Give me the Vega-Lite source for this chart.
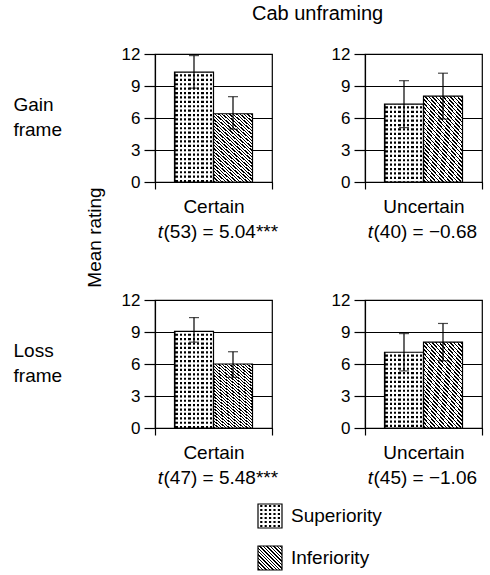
{
  "$schema": "https://vega.github.io/schema/vega-lite/v6.json",
  "padding": {"left": 12, "top": 4, "right": 0, "bottom": 0},
  "title": {"text": "Cab unframing", "anchor": "start", "frame": "group", "dx": 97, "offset": 20, "fontSize": 20, "fontWeight": "normal", "color": "#000"},
  "config": {
    "font": "Liberation Sans",
    "view": {"stroke": "#000", "strokeWidth": 1.2},
    "axis": {"domainColor": "#000", "domainWidth": 1.2, "tickColor": "#000", "tickWidth": 1.2, "labelColor": "#000", "titleColor": "#000", "titleFontWeight": "normal", "gridColor": "#000", "gridOpacity": 1, "gridWidth": 1.1},
    "axisX": {"labelFontSize": 19, "tickSize": 7, "labelPadding": 8, "grid": false, "labelAngle": 0},
    "axisY": {"labelFontSize": 17, "tickSize": 11, "labelPadding": 4, "titleFontSize": 19, "tickCount": 6, "labelOverlap": false},
    "title": {"fontWeight": "normal", "color": "#000"},
    "text": {"fontSize": 19, "color": "#000"}
  },
  "datasets": {
    "bars": [
      {"frame": "Gain", "certainty": "Certain", "group": "Superiority", "mean": 10.3, "lo": 8.8, "hi": 11.85},
      {"frame": "Gain", "certainty": "Certain", "group": "Inferiority", "mean": 6.4, "lo": 4.95, "hi": 8.0},
      {"frame": "Gain", "certainty": "Uncertain", "group": "Superiority", "mean": 7.3, "lo": 5.1, "hi": 9.5},
      {"frame": "Gain", "certainty": "Uncertain", "group": "Inferiority", "mean": 8.05, "lo": 5.9, "hi": 10.2},
      {"frame": "Loss", "certainty": "Certain", "group": "Superiority", "mean": 9.05, "lo": 8.05, "hi": 10.35},
      {"frame": "Loss", "certainty": "Certain", "group": "Inferiority", "mean": 6.0, "lo": 4.75, "hi": 7.15},
      {"frame": "Loss", "certainty": "Uncertain", "group": "Superiority", "mean": 7.1, "lo": 5.35, "hi": 8.85},
      {"frame": "Loss", "certainty": "Uncertain", "group": "Inferiority", "mean": 8.05, "lo": 6.3, "hi": 9.8}
    ],
    "stats": [
      {"frame": "Gain", "certainty": "Certain", "label": "(53) = 5.04***"},
      {"frame": "Gain", "certainty": "Uncertain", "label": "(40) = −0.68"},
      {"frame": "Loss", "certainty": "Certain", "label": "(47) = 5.48***"},
      {"frame": "Loss", "certainty": "Uncertain", "label": "(45) = −1.06"}
    ],
    "legend": [
      {"group": "Superiority"},
      {"group": "Inferiority"}
    ]
  },
  "concat": [
    {
      "width": 117, "height": 128,
      "title": {"text": ["Gain", "frame"], "orient": "left", "angle": 0, "align": "left", "baseline": "middle", "anchor": "middle", "frame": "group", "offset": 23, "dy": -13.5, "fontSize": 19, "lineHeight": 25},
      "layer": [
        {"data": {"name": "bars"}, "transform": [{"filter": "datum.frame === 'Gain' && datum.certainty === 'Certain'"}, {"filter": "datum.group === 'Superiority'"}],
         "mark": {"type": "bar", "strokeWidth": 0, "fill": {"gradient": "linear", "x1": 0, "y1": 0, "x2": 1, "y2": 0, "stops": [{"offset": 0, "color": "#fff"}, {"offset": 0.025, "color": "#fff"}, {"offset": 0.025, "color": "#000"}, {"offset": 0.085, "color": "#000"}, {"offset": 0.085, "color": "#fff"}, {"offset": 0.136, "color": "#fff"}, {"offset": 0.136, "color": "#000"}, {"offset": 0.196, "color": "#000"}, {"offset": 0.196, "color": "#fff"}, {"offset": 0.247, "color": "#fff"}, {"offset": 0.247, "color": "#000"}, {"offset": 0.307, "color": "#000"}, {"offset": 0.307, "color": "#fff"}, {"offset": 0.358, "color": "#fff"}, {"offset": 0.358, "color": "#000"}, {"offset": 0.418, "color": "#000"}, {"offset": 0.418, "color": "#fff"}, {"offset": 0.469, "color": "#fff"}, {"offset": 0.469, "color": "#000"}, {"offset": 0.529, "color": "#000"}, {"offset": 0.529, "color": "#fff"}, {"offset": 0.581, "color": "#fff"}, {"offset": 0.581, "color": "#000"}, {"offset": 0.641, "color": "#000"}, {"offset": 0.641, "color": "#fff"}, {"offset": 0.692, "color": "#fff"}, {"offset": 0.692, "color": "#000"}, {"offset": 0.752, "color": "#000"}, {"offset": 0.752, "color": "#fff"}, {"offset": 0.803, "color": "#fff"}, {"offset": 0.803, "color": "#000"}, {"offset": 0.863, "color": "#000"}, {"offset": 0.863, "color": "#fff"}, {"offset": 0.914, "color": "#fff"}, {"offset": 0.914, "color": "#000"}, {"offset": 0.974, "color": "#000"}, {"offset": 0.974, "color": "#fff"}, {"offset": 1, "color": "#fff"}]}},
         "encoding": {
           "x": {"field": "certainty", "type": "nominal", "title": null, "scale": {"paddingInner": 0, "paddingOuter": 0}, "axis": {"tickBand": "extent", "title": null}},
           "xOffset": {"field": "group", "type": "nominal", "scale": {"domain": ["Superiority", "Inferiority"], "paddingInner": 0, "paddingOuter": 0.5}},
           "y": {"field": "mean", "type": "quantitative", "scale": {"domain": [0, 12], "nice": false}, "axis": {"values": [0, 3, 6, 9, 12], "tickCount": 6, "grid": true, "title": "Mean rating", "titleX": -61, "titleY": 183, "titleAngle": -90, "titleAlign": "center", "titleBaseline": "middle"}}
         }},
        {"data": {"name": "bars"}, "transform": [{"filter": "datum.frame === 'Gain' && datum.certainty === 'Certain'"}, {"filter": "datum.group === 'Superiority'"}],
         "mark": {"type": "rule", "stroke": "#fff", "strokeWidth": 37, "strokeDash": [2.2, 2.2]},
         "encoding": {"x": {"field": "certainty", "type": "nominal"}, "xOffset": {"field": "group", "type": "nominal", "scale": {"domain": ["Superiority", "Inferiority"]}}, "y": {"field": "mean", "type": "quantitative"}, "y2": {"datum": 0}}},
        {"data": {"name": "bars"}, "transform": [{"filter": "datum.frame === 'Gain' && datum.certainty === 'Certain'"}, {"filter": "datum.group === 'Inferiority'"}],
         "mark": {"type": "bar", "strokeWidth": 0, "fill": {"gradient": "linear", "x1": 0, "y1": 1, "x2": 0.6146, "y2": -0.1978, "stops": [{"offset": 0, "color": "#fff"}, {"offset": 0.009, "color": "#fff"}, {"offset": 0.009, "color": "#000"}, {"offset": 0.0215, "color": "#000"}, {"offset": 0.0215, "color": "#fff"}, {"offset": 0.0403, "color": "#fff"}, {"offset": 0.0403, "color": "#000"}, {"offset": 0.0528, "color": "#000"}, {"offset": 0.0528, "color": "#fff"}, {"offset": 0.0715, "color": "#fff"}, {"offset": 0.0715, "color": "#000"}, {"offset": 0.084, "color": "#000"}, {"offset": 0.084, "color": "#fff"}, {"offset": 0.1028, "color": "#fff"}, {"offset": 0.1028, "color": "#000"}, {"offset": 0.1153, "color": "#000"}, {"offset": 0.1153, "color": "#fff"}, {"offset": 0.134, "color": "#fff"}, {"offset": 0.134, "color": "#000"}, {"offset": 0.1465, "color": "#000"}, {"offset": 0.1465, "color": "#fff"}, {"offset": 0.1653, "color": "#fff"}, {"offset": 0.1653, "color": "#000"}, {"offset": 0.1778, "color": "#000"}, {"offset": 0.1778, "color": "#fff"}, {"offset": 0.1965, "color": "#fff"}, {"offset": 0.1965, "color": "#000"}, {"offset": 0.209, "color": "#000"}, {"offset": 0.209, "color": "#fff"}, {"offset": 0.2278, "color": "#fff"}, {"offset": 0.2278, "color": "#000"}, {"offset": 0.2403, "color": "#000"}, {"offset": 0.2403, "color": "#fff"}, {"offset": 0.259, "color": "#fff"}, {"offset": 0.259, "color": "#000"}, {"offset": 0.2715, "color": "#000"}, {"offset": 0.2715, "color": "#fff"}, {"offset": 0.2903, "color": "#fff"}, {"offset": 0.2903, "color": "#000"}, {"offset": 0.3028, "color": "#000"}, {"offset": 0.3028, "color": "#fff"}, {"offset": 0.3215, "color": "#fff"}, {"offset": 0.3215, "color": "#000"}, {"offset": 0.334, "color": "#000"}, {"offset": 0.334, "color": "#fff"}, {"offset": 0.3528, "color": "#fff"}, {"offset": 0.3528, "color": "#000"}, {"offset": 0.3653, "color": "#000"}, {"offset": 0.3653, "color": "#fff"}, {"offset": 0.384, "color": "#fff"}, {"offset": 0.384, "color": "#000"}, {"offset": 0.3965, "color": "#000"}, {"offset": 0.3965, "color": "#fff"}, {"offset": 0.4153, "color": "#fff"}, {"offset": 0.4153, "color": "#000"}, {"offset": 0.4278, "color": "#000"}, {"offset": 0.4278, "color": "#fff"}, {"offset": 0.4465, "color": "#fff"}, {"offset": 0.4465, "color": "#000"}, {"offset": 0.459, "color": "#000"}, {"offset": 0.459, "color": "#fff"}, {"offset": 0.4778, "color": "#fff"}, {"offset": 0.4778, "color": "#000"}, {"offset": 0.4903, "color": "#000"}, {"offset": 0.4903, "color": "#fff"}, {"offset": 0.509, "color": "#fff"}, {"offset": 0.509, "color": "#000"}, {"offset": 0.5215, "color": "#000"}, {"offset": 0.5215, "color": "#fff"}, {"offset": 0.5403, "color": "#fff"}, {"offset": 0.5403, "color": "#000"}, {"offset": 0.5528, "color": "#000"}, {"offset": 0.5528, "color": "#fff"}, {"offset": 0.5715, "color": "#fff"}, {"offset": 0.5715, "color": "#000"}, {"offset": 0.584, "color": "#000"}, {"offset": 0.584, "color": "#fff"}, {"offset": 0.6028, "color": "#fff"}, {"offset": 0.6028, "color": "#000"}, {"offset": 0.6153, "color": "#000"}, {"offset": 0.6153, "color": "#fff"}, {"offset": 0.634, "color": "#fff"}, {"offset": 0.634, "color": "#000"}, {"offset": 0.6465, "color": "#000"}, {"offset": 0.6465, "color": "#fff"}, {"offset": 0.6653, "color": "#fff"}, {"offset": 0.6653, "color": "#000"}, {"offset": 0.6778, "color": "#000"}, {"offset": 0.6778, "color": "#fff"}, {"offset": 0.6965, "color": "#fff"}, {"offset": 0.6965, "color": "#000"}, {"offset": 0.709, "color": "#000"}, {"offset": 0.709, "color": "#fff"}, {"offset": 0.7278, "color": "#fff"}, {"offset": 0.7278, "color": "#000"}, {"offset": 0.7403, "color": "#000"}, {"offset": 0.7403, "color": "#fff"}, {"offset": 0.759, "color": "#fff"}, {"offset": 0.759, "color": "#000"}, {"offset": 0.7715, "color": "#000"}, {"offset": 0.7715, "color": "#fff"}, {"offset": 0.7903, "color": "#fff"}, {"offset": 0.7903, "color": "#000"}, {"offset": 0.8028, "color": "#000"}, {"offset": 0.8028, "color": "#fff"}, {"offset": 0.8215, "color": "#fff"}, {"offset": 0.8215, "color": "#000"}, {"offset": 0.834, "color": "#000"}, {"offset": 0.834, "color": "#fff"}, {"offset": 0.8528, "color": "#fff"}, {"offset": 0.8528, "color": "#000"}, {"offset": 0.8653, "color": "#000"}, {"offset": 0.8653, "color": "#fff"}, {"offset": 0.884, "color": "#fff"}, {"offset": 0.884, "color": "#000"}, {"offset": 0.8965, "color": "#000"}, {"offset": 0.8965, "color": "#fff"}, {"offset": 0.9153, "color": "#fff"}, {"offset": 0.9153, "color": "#000"}, {"offset": 0.9278, "color": "#000"}, {"offset": 0.9278, "color": "#fff"}, {"offset": 0.9465, "color": "#fff"}, {"offset": 0.9465, "color": "#000"}, {"offset": 0.959, "color": "#000"}, {"offset": 0.959, "color": "#fff"}, {"offset": 0.9778, "color": "#fff"}, {"offset": 0.9778, "color": "#000"}, {"offset": 0.9903, "color": "#000"}, {"offset": 0.9903, "color": "#fff"}, {"offset": 1, "color": "#fff"}]}},
         "encoding": {"x": {"field": "certainty", "type": "nominal"}, "xOffset": {"field": "group", "type": "nominal", "scale": {"domain": ["Superiority", "Inferiority"]}}, "y": {"field": "mean", "type": "quantitative"}}},
        {"data": {"name": "bars"}, "transform": [{"filter": "datum.frame === 'Gain' && datum.certainty === 'Certain'"}],
         "mark": {"type": "bar", "fill": "transparent", "stroke": "#000", "strokeWidth": 1.2},
         "encoding": {"x": {"field": "certainty", "type": "nominal"}, "xOffset": {"field": "group", "type": "nominal", "scale": {"domain": ["Superiority", "Inferiority"]}}, "y": {"field": "mean", "type": "quantitative"}}},
        {"data": {"name": "bars"}, "transform": [{"filter": "datum.frame === 'Gain' && datum.certainty === 'Certain'"}],
         "mark": {"type": "rule", "stroke": "#000", "strokeWidth": 1.2},
         "encoding": {"x": {"field": "certainty", "type": "nominal"}, "xOffset": {"field": "group", "type": "nominal", "scale": {"domain": ["Superiority", "Inferiority"]}}, "y": {"field": "lo", "type": "quantitative"}, "y2": {"field": "hi"}}},
        {"data": {"name": "bars"}, "transform": [{"filter": "datum.frame === 'Gain' && datum.certainty === 'Certain'"}],
         "mark": {"type": "tick", "orient": "horizontal", "size": 10, "thickness": 1.2, "color": "#000"},
         "encoding": {"x": {"field": "certainty", "type": "nominal"}, "xOffset": {"field": "group", "type": "nominal", "scale": {"domain": ["Superiority", "Inferiority"]}}, "y": {"field": "lo", "type": "quantitative"}}},
        {"data": {"name": "bars"}, "transform": [{"filter": "datum.frame === 'Gain' && datum.certainty === 'Certain'"}],
         "mark": {"type": "tick", "orient": "horizontal", "size": 10, "thickness": 1.2, "color": "#000"},
         "encoding": {"x": {"field": "certainty", "type": "nominal"}, "xOffset": {"field": "group", "type": "nominal", "scale": {"domain": ["Superiority", "Inferiority"]}}, "y": {"field": "hi", "type": "quantitative"}}},
        {"data": {"name": "stats"}, "transform": [{"filter": "datum.frame === 'Gain' && datum.certainty === 'Certain'"}],
         "mark": {"type": "text", "text": "t", "fontStyle": "italic", "align": "right", "baseline": "alphabetic", "dx": -50.5, "dy": 56},
         "encoding": {"x": {"field": "certainty", "type": "nominal"}, "y": {"datum": 0, "type": "quantitative"}}},
        {"data": {"name": "stats"}, "transform": [{"filter": "datum.frame === 'Gain' && datum.certainty === 'Certain'"}],
         "mark": {"type": "text", "align": "left", "baseline": "alphabetic", "dx": -50, "dy": 56},
         "encoding": {"x": {"field": "certainty", "type": "nominal"}, "y": {"datum": 0, "type": "quantitative"}, "text": {"field": "label"}}}
      ]
    },
    {
      "width": 117, "height": 128,
      "layer": [
        {"data": {"name": "bars"}, "transform": [{"filter": "datum.frame === 'Gain' && datum.certainty === 'Uncertain'"}, {"filter": "datum.group === 'Superiority'"}],
         "mark": {"type": "bar", "strokeWidth": 0, "fill": {"gradient": "linear", "x1": 0, "y1": 0, "x2": 1, "y2": 0, "stops": [{"offset": 0, "color": "#fff"}, {"offset": 0.025, "color": "#fff"}, {"offset": 0.025, "color": "#000"}, {"offset": 0.085, "color": "#000"}, {"offset": 0.085, "color": "#fff"}, {"offset": 0.136, "color": "#fff"}, {"offset": 0.136, "color": "#000"}, {"offset": 0.196, "color": "#000"}, {"offset": 0.196, "color": "#fff"}, {"offset": 0.247, "color": "#fff"}, {"offset": 0.247, "color": "#000"}, {"offset": 0.307, "color": "#000"}, {"offset": 0.307, "color": "#fff"}, {"offset": 0.358, "color": "#fff"}, {"offset": 0.358, "color": "#000"}, {"offset": 0.418, "color": "#000"}, {"offset": 0.418, "color": "#fff"}, {"offset": 0.469, "color": "#fff"}, {"offset": 0.469, "color": "#000"}, {"offset": 0.529, "color": "#000"}, {"offset": 0.529, "color": "#fff"}, {"offset": 0.581, "color": "#fff"}, {"offset": 0.581, "color": "#000"}, {"offset": 0.641, "color": "#000"}, {"offset": 0.641, "color": "#fff"}, {"offset": 0.692, "color": "#fff"}, {"offset": 0.692, "color": "#000"}, {"offset": 0.752, "color": "#000"}, {"offset": 0.752, "color": "#fff"}, {"offset": 0.803, "color": "#fff"}, {"offset": 0.803, "color": "#000"}, {"offset": 0.863, "color": "#000"}, {"offset": 0.863, "color": "#fff"}, {"offset": 0.914, "color": "#fff"}, {"offset": 0.914, "color": "#000"}, {"offset": 0.974, "color": "#000"}, {"offset": 0.974, "color": "#fff"}, {"offset": 1, "color": "#fff"}]}},
         "encoding": {
           "x": {"field": "certainty", "type": "nominal", "title": null, "scale": {"paddingInner": 0, "paddingOuter": 0}, "axis": {"tickBand": "extent", "title": null}},
           "xOffset": {"field": "group", "type": "nominal", "scale": {"domain": ["Superiority", "Inferiority"], "paddingInner": 0, "paddingOuter": 0.5}},
           "y": {"field": "mean", "type": "quantitative", "scale": {"domain": [0, 12], "nice": false}, "axis": {"values": [0, 3, 6, 9, 12], "tickCount": 6, "grid": true, "title": null}}
         }},
        {"data": {"name": "bars"}, "transform": [{"filter": "datum.frame === 'Gain' && datum.certainty === 'Uncertain'"}, {"filter": "datum.group === 'Superiority'"}],
         "mark": {"type": "rule", "stroke": "#fff", "strokeWidth": 37, "strokeDash": [2.2, 2.2]},
         "encoding": {"x": {"field": "certainty", "type": "nominal"}, "xOffset": {"field": "group", "type": "nominal", "scale": {"domain": ["Superiority", "Inferiority"]}}, "y": {"field": "mean", "type": "quantitative"}, "y2": {"datum": 0}}},
        {"data": {"name": "bars"}, "transform": [{"filter": "datum.frame === 'Gain' && datum.certainty === 'Uncertain'"}, {"filter": "datum.group === 'Inferiority'"}],
         "mark": {"type": "bar", "strokeWidth": 0, "fill": {"gradient": "linear", "x1": 0, "y1": 1, "x2": 0.6146, "y2": -0.1978, "stops": [{"offset": 0, "color": "#fff"}, {"offset": 0.009, "color": "#fff"}, {"offset": 0.009, "color": "#000"}, {"offset": 0.0215, "color": "#000"}, {"offset": 0.0215, "color": "#fff"}, {"offset": 0.0403, "color": "#fff"}, {"offset": 0.0403, "color": "#000"}, {"offset": 0.0528, "color": "#000"}, {"offset": 0.0528, "color": "#fff"}, {"offset": 0.0715, "color": "#fff"}, {"offset": 0.0715, "color": "#000"}, {"offset": 0.084, "color": "#000"}, {"offset": 0.084, "color": "#fff"}, {"offset": 0.1028, "color": "#fff"}, {"offset": 0.1028, "color": "#000"}, {"offset": 0.1153, "color": "#000"}, {"offset": 0.1153, "color": "#fff"}, {"offset": 0.134, "color": "#fff"}, {"offset": 0.134, "color": "#000"}, {"offset": 0.1465, "color": "#000"}, {"offset": 0.1465, "color": "#fff"}, {"offset": 0.1653, "color": "#fff"}, {"offset": 0.1653, "color": "#000"}, {"offset": 0.1778, "color": "#000"}, {"offset": 0.1778, "color": "#fff"}, {"offset": 0.1965, "color": "#fff"}, {"offset": 0.1965, "color": "#000"}, {"offset": 0.209, "color": "#000"}, {"offset": 0.209, "color": "#fff"}, {"offset": 0.2278, "color": "#fff"}, {"offset": 0.2278, "color": "#000"}, {"offset": 0.2403, "color": "#000"}, {"offset": 0.2403, "color": "#fff"}, {"offset": 0.259, "color": "#fff"}, {"offset": 0.259, "color": "#000"}, {"offset": 0.2715, "color": "#000"}, {"offset": 0.2715, "color": "#fff"}, {"offset": 0.2903, "color": "#fff"}, {"offset": 0.2903, "color": "#000"}, {"offset": 0.3028, "color": "#000"}, {"offset": 0.3028, "color": "#fff"}, {"offset": 0.3215, "color": "#fff"}, {"offset": 0.3215, "color": "#000"}, {"offset": 0.334, "color": "#000"}, {"offset": 0.334, "color": "#fff"}, {"offset": 0.3528, "color": "#fff"}, {"offset": 0.3528, "color": "#000"}, {"offset": 0.3653, "color": "#000"}, {"offset": 0.3653, "color": "#fff"}, {"offset": 0.384, "color": "#fff"}, {"offset": 0.384, "color": "#000"}, {"offset": 0.3965, "color": "#000"}, {"offset": 0.3965, "color": "#fff"}, {"offset": 0.4153, "color": "#fff"}, {"offset": 0.4153, "color": "#000"}, {"offset": 0.4278, "color": "#000"}, {"offset": 0.4278, "color": "#fff"}, {"offset": 0.4465, "color": "#fff"}, {"offset": 0.4465, "color": "#000"}, {"offset": 0.459, "color": "#000"}, {"offset": 0.459, "color": "#fff"}, {"offset": 0.4778, "color": "#fff"}, {"offset": 0.4778, "color": "#000"}, {"offset": 0.4903, "color": "#000"}, {"offset": 0.4903, "color": "#fff"}, {"offset": 0.509, "color": "#fff"}, {"offset": 0.509, "color": "#000"}, {"offset": 0.5215, "color": "#000"}, {"offset": 0.5215, "color": "#fff"}, {"offset": 0.5403, "color": "#fff"}, {"offset": 0.5403, "color": "#000"}, {"offset": 0.5528, "color": "#000"}, {"offset": 0.5528, "color": "#fff"}, {"offset": 0.5715, "color": "#fff"}, {"offset": 0.5715, "color": "#000"}, {"offset": 0.584, "color": "#000"}, {"offset": 0.584, "color": "#fff"}, {"offset": 0.6028, "color": "#fff"}, {"offset": 0.6028, "color": "#000"}, {"offset": 0.6153, "color": "#000"}, {"offset": 0.6153, "color": "#fff"}, {"offset": 0.634, "color": "#fff"}, {"offset": 0.634, "color": "#000"}, {"offset": 0.6465, "color": "#000"}, {"offset": 0.6465, "color": "#fff"}, {"offset": 0.6653, "color": "#fff"}, {"offset": 0.6653, "color": "#000"}, {"offset": 0.6778, "color": "#000"}, {"offset": 0.6778, "color": "#fff"}, {"offset": 0.6965, "color": "#fff"}, {"offset": 0.6965, "color": "#000"}, {"offset": 0.709, "color": "#000"}, {"offset": 0.709, "color": "#fff"}, {"offset": 0.7278, "color": "#fff"}, {"offset": 0.7278, "color": "#000"}, {"offset": 0.7403, "color": "#000"}, {"offset": 0.7403, "color": "#fff"}, {"offset": 0.759, "color": "#fff"}, {"offset": 0.759, "color": "#000"}, {"offset": 0.7715, "color": "#000"}, {"offset": 0.7715, "color": "#fff"}, {"offset": 0.7903, "color": "#fff"}, {"offset": 0.7903, "color": "#000"}, {"offset": 0.8028, "color": "#000"}, {"offset": 0.8028, "color": "#fff"}, {"offset": 0.8215, "color": "#fff"}, {"offset": 0.8215, "color": "#000"}, {"offset": 0.834, "color": "#000"}, {"offset": 0.834, "color": "#fff"}, {"offset": 0.8528, "color": "#fff"}, {"offset": 0.8528, "color": "#000"}, {"offset": 0.8653, "color": "#000"}, {"offset": 0.8653, "color": "#fff"}, {"offset": 0.884, "color": "#fff"}, {"offset": 0.884, "color": "#000"}, {"offset": 0.8965, "color": "#000"}, {"offset": 0.8965, "color": "#fff"}, {"offset": 0.9153, "color": "#fff"}, {"offset": 0.9153, "color": "#000"}, {"offset": 0.9278, "color": "#000"}, {"offset": 0.9278, "color": "#fff"}, {"offset": 0.9465, "color": "#fff"}, {"offset": 0.9465, "color": "#000"}, {"offset": 0.959, "color": "#000"}, {"offset": 0.959, "color": "#fff"}, {"offset": 0.9778, "color": "#fff"}, {"offset": 0.9778, "color": "#000"}, {"offset": 0.9903, "color": "#000"}, {"offset": 0.9903, "color": "#fff"}, {"offset": 1, "color": "#fff"}]}},
         "encoding": {"x": {"field": "certainty", "type": "nominal"}, "xOffset": {"field": "group", "type": "nominal", "scale": {"domain": ["Superiority", "Inferiority"]}}, "y": {"field": "mean", "type": "quantitative"}}},
        {"data": {"name": "bars"}, "transform": [{"filter": "datum.frame === 'Gain' && datum.certainty === 'Uncertain'"}],
         "mark": {"type": "bar", "fill": "transparent", "stroke": "#000", "strokeWidth": 1.2},
         "encoding": {"x": {"field": "certainty", "type": "nominal"}, "xOffset": {"field": "group", "type": "nominal", "scale": {"domain": ["Superiority", "Inferiority"]}}, "y": {"field": "mean", "type": "quantitative"}}},
        {"data": {"name": "bars"}, "transform": [{"filter": "datum.frame === 'Gain' && datum.certainty === 'Uncertain'"}],
         "mark": {"type": "rule", "stroke": "#000", "strokeWidth": 1.2},
         "encoding": {"x": {"field": "certainty", "type": "nominal"}, "xOffset": {"field": "group", "type": "nominal", "scale": {"domain": ["Superiority", "Inferiority"]}}, "y": {"field": "lo", "type": "quantitative"}, "y2": {"field": "hi"}}},
        {"data": {"name": "bars"}, "transform": [{"filter": "datum.frame === 'Gain' && datum.certainty === 'Uncertain'"}],
         "mark": {"type": "tick", "orient": "horizontal", "size": 10, "thickness": 1.2, "color": "#000"},
         "encoding": {"x": {"field": "certainty", "type": "nominal"}, "xOffset": {"field": "group", "type": "nominal", "scale": {"domain": ["Superiority", "Inferiority"]}}, "y": {"field": "lo", "type": "quantitative"}}},
        {"data": {"name": "bars"}, "transform": [{"filter": "datum.frame === 'Gain' && datum.certainty === 'Uncertain'"}],
         "mark": {"type": "tick", "orient": "horizontal", "size": 10, "thickness": 1.2, "color": "#000"},
         "encoding": {"x": {"field": "certainty", "type": "nominal"}, "xOffset": {"field": "group", "type": "nominal", "scale": {"domain": ["Superiority", "Inferiority"]}}, "y": {"field": "hi", "type": "quantitative"}}},
        {"data": {"name": "stats"}, "transform": [{"filter": "datum.frame === 'Gain' && datum.certainty === 'Uncertain'"}],
         "mark": {"type": "text", "text": "t", "fontStyle": "italic", "align": "right", "baseline": "alphabetic", "dx": -50.5, "dy": 56},
         "encoding": {"x": {"field": "certainty", "type": "nominal"}, "y": {"datum": 0, "type": "quantitative"}}},
        {"data": {"name": "stats"}, "transform": [{"filter": "datum.frame === 'Gain' && datum.certainty === 'Uncertain'"}],
         "mark": {"type": "text", "align": "left", "baseline": "alphabetic", "dx": -50, "dy": 56},
         "encoding": {"x": {"field": "certainty", "type": "nominal"}, "y": {"datum": 0, "type": "quantitative"}, "text": {"field": "label"}}}
      ]
    },
    {
      "width": 117, "height": 128,
      "title": {"text": ["Loss", "frame"], "orient": "left", "angle": 0, "align": "left", "baseline": "middle", "anchor": "middle", "frame": "group", "offset": 59, "dy": -13.5, "fontSize": 19, "lineHeight": 25},
      "layer": [
        {"data": {"name": "bars"}, "transform": [{"filter": "datum.frame === 'Loss' && datum.certainty === 'Certain'"}, {"filter": "datum.group === 'Superiority'"}],
         "mark": {"type": "bar", "strokeWidth": 0, "fill": {"gradient": "linear", "x1": 0, "y1": 0, "x2": 1, "y2": 0, "stops": [{"offset": 0, "color": "#fff"}, {"offset": 0.025, "color": "#fff"}, {"offset": 0.025, "color": "#000"}, {"offset": 0.085, "color": "#000"}, {"offset": 0.085, "color": "#fff"}, {"offset": 0.136, "color": "#fff"}, {"offset": 0.136, "color": "#000"}, {"offset": 0.196, "color": "#000"}, {"offset": 0.196, "color": "#fff"}, {"offset": 0.247, "color": "#fff"}, {"offset": 0.247, "color": "#000"}, {"offset": 0.307, "color": "#000"}, {"offset": 0.307, "color": "#fff"}, {"offset": 0.358, "color": "#fff"}, {"offset": 0.358, "color": "#000"}, {"offset": 0.418, "color": "#000"}, {"offset": 0.418, "color": "#fff"}, {"offset": 0.469, "color": "#fff"}, {"offset": 0.469, "color": "#000"}, {"offset": 0.529, "color": "#000"}, {"offset": 0.529, "color": "#fff"}, {"offset": 0.581, "color": "#fff"}, {"offset": 0.581, "color": "#000"}, {"offset": 0.641, "color": "#000"}, {"offset": 0.641, "color": "#fff"}, {"offset": 0.692, "color": "#fff"}, {"offset": 0.692, "color": "#000"}, {"offset": 0.752, "color": "#000"}, {"offset": 0.752, "color": "#fff"}, {"offset": 0.803, "color": "#fff"}, {"offset": 0.803, "color": "#000"}, {"offset": 0.863, "color": "#000"}, {"offset": 0.863, "color": "#fff"}, {"offset": 0.914, "color": "#fff"}, {"offset": 0.914, "color": "#000"}, {"offset": 0.974, "color": "#000"}, {"offset": 0.974, "color": "#fff"}, {"offset": 1, "color": "#fff"}]}},
         "encoding": {
           "x": {"field": "certainty", "type": "nominal", "title": null, "scale": {"paddingInner": 0, "paddingOuter": 0}, "axis": {"tickBand": "extent", "title": null}},
           "xOffset": {"field": "group", "type": "nominal", "scale": {"domain": ["Superiority", "Inferiority"], "paddingInner": 0, "paddingOuter": 0.5}},
           "y": {"field": "mean", "type": "quantitative", "scale": {"domain": [0, 12], "nice": false}, "axis": {"values": [0, 3, 6, 9, 12], "tickCount": 6, "grid": true, "title": null}}
         }},
        {"data": {"name": "bars"}, "transform": [{"filter": "datum.frame === 'Loss' && datum.certainty === 'Certain'"}, {"filter": "datum.group === 'Superiority'"}],
         "mark": {"type": "rule", "stroke": "#fff", "strokeWidth": 37, "strokeDash": [2.2, 2.2]},
         "encoding": {"x": {"field": "certainty", "type": "nominal"}, "xOffset": {"field": "group", "type": "nominal", "scale": {"domain": ["Superiority", "Inferiority"]}}, "y": {"field": "mean", "type": "quantitative"}, "y2": {"datum": 0}}},
        {"data": {"name": "bars"}, "transform": [{"filter": "datum.frame === 'Loss' && datum.certainty === 'Certain'"}, {"filter": "datum.group === 'Inferiority'"}],
         "mark": {"type": "bar", "strokeWidth": 0, "fill": {"gradient": "linear", "x1": 0, "y1": 1, "x2": 0.6146, "y2": -0.1978, "stops": [{"offset": 0, "color": "#fff"}, {"offset": 0.009, "color": "#fff"}, {"offset": 0.009, "color": "#000"}, {"offset": 0.0215, "color": "#000"}, {"offset": 0.0215, "color": "#fff"}, {"offset": 0.0403, "color": "#fff"}, {"offset": 0.0403, "color": "#000"}, {"offset": 0.0528, "color": "#000"}, {"offset": 0.0528, "color": "#fff"}, {"offset": 0.0715, "color": "#fff"}, {"offset": 0.0715, "color": "#000"}, {"offset": 0.084, "color": "#000"}, {"offset": 0.084, "color": "#fff"}, {"offset": 0.1028, "color": "#fff"}, {"offset": 0.1028, "color": "#000"}, {"offset": 0.1153, "color": "#000"}, {"offset": 0.1153, "color": "#fff"}, {"offset": 0.134, "color": "#fff"}, {"offset": 0.134, "color": "#000"}, {"offset": 0.1465, "color": "#000"}, {"offset": 0.1465, "color": "#fff"}, {"offset": 0.1653, "color": "#fff"}, {"offset": 0.1653, "color": "#000"}, {"offset": 0.1778, "color": "#000"}, {"offset": 0.1778, "color": "#fff"}, {"offset": 0.1965, "color": "#fff"}, {"offset": 0.1965, "color": "#000"}, {"offset": 0.209, "color": "#000"}, {"offset": 0.209, "color": "#fff"}, {"offset": 0.2278, "color": "#fff"}, {"offset": 0.2278, "color": "#000"}, {"offset": 0.2403, "color": "#000"}, {"offset": 0.2403, "color": "#fff"}, {"offset": 0.259, "color": "#fff"}, {"offset": 0.259, "color": "#000"}, {"offset": 0.2715, "color": "#000"}, {"offset": 0.2715, "color": "#fff"}, {"offset": 0.2903, "color": "#fff"}, {"offset": 0.2903, "color": "#000"}, {"offset": 0.3028, "color": "#000"}, {"offset": 0.3028, "color": "#fff"}, {"offset": 0.3215, "color": "#fff"}, {"offset": 0.3215, "color": "#000"}, {"offset": 0.334, "color": "#000"}, {"offset": 0.334, "color": "#fff"}, {"offset": 0.3528, "color": "#fff"}, {"offset": 0.3528, "color": "#000"}, {"offset": 0.3653, "color": "#000"}, {"offset": 0.3653, "color": "#fff"}, {"offset": 0.384, "color": "#fff"}, {"offset": 0.384, "color": "#000"}, {"offset": 0.3965, "color": "#000"}, {"offset": 0.3965, "color": "#fff"}, {"offset": 0.4153, "color": "#fff"}, {"offset": 0.4153, "color": "#000"}, {"offset": 0.4278, "color": "#000"}, {"offset": 0.4278, "color": "#fff"}, {"offset": 0.4465, "color": "#fff"}, {"offset": 0.4465, "color": "#000"}, {"offset": 0.459, "color": "#000"}, {"offset": 0.459, "color": "#fff"}, {"offset": 0.4778, "color": "#fff"}, {"offset": 0.4778, "color": "#000"}, {"offset": 0.4903, "color": "#000"}, {"offset": 0.4903, "color": "#fff"}, {"offset": 0.509, "color": "#fff"}, {"offset": 0.509, "color": "#000"}, {"offset": 0.5215, "color": "#000"}, {"offset": 0.5215, "color": "#fff"}, {"offset": 0.5403, "color": "#fff"}, {"offset": 0.5403, "color": "#000"}, {"offset": 0.5528, "color": "#000"}, {"offset": 0.5528, "color": "#fff"}, {"offset": 0.5715, "color": "#fff"}, {"offset": 0.5715, "color": "#000"}, {"offset": 0.584, "color": "#000"}, {"offset": 0.584, "color": "#fff"}, {"offset": 0.6028, "color": "#fff"}, {"offset": 0.6028, "color": "#000"}, {"offset": 0.6153, "color": "#000"}, {"offset": 0.6153, "color": "#fff"}, {"offset": 0.634, "color": "#fff"}, {"offset": 0.634, "color": "#000"}, {"offset": 0.6465, "color": "#000"}, {"offset": 0.6465, "color": "#fff"}, {"offset": 0.6653, "color": "#fff"}, {"offset": 0.6653, "color": "#000"}, {"offset": 0.6778, "color": "#000"}, {"offset": 0.6778, "color": "#fff"}, {"offset": 0.6965, "color": "#fff"}, {"offset": 0.6965, "color": "#000"}, {"offset": 0.709, "color": "#000"}, {"offset": 0.709, "color": "#fff"}, {"offset": 0.7278, "color": "#fff"}, {"offset": 0.7278, "color": "#000"}, {"offset": 0.7403, "color": "#000"}, {"offset": 0.7403, "color": "#fff"}, {"offset": 0.759, "color": "#fff"}, {"offset": 0.759, "color": "#000"}, {"offset": 0.7715, "color": "#000"}, {"offset": 0.7715, "color": "#fff"}, {"offset": 0.7903, "color": "#fff"}, {"offset": 0.7903, "color": "#000"}, {"offset": 0.8028, "color": "#000"}, {"offset": 0.8028, "color": "#fff"}, {"offset": 0.8215, "color": "#fff"}, {"offset": 0.8215, "color": "#000"}, {"offset": 0.834, "color": "#000"}, {"offset": 0.834, "color": "#fff"}, {"offset": 0.8528, "color": "#fff"}, {"offset": 0.8528, "color": "#000"}, {"offset": 0.8653, "color": "#000"}, {"offset": 0.8653, "color": "#fff"}, {"offset": 0.884, "color": "#fff"}, {"offset": 0.884, "color": "#000"}, {"offset": 0.8965, "color": "#000"}, {"offset": 0.8965, "color": "#fff"}, {"offset": 0.9153, "color": "#fff"}, {"offset": 0.9153, "color": "#000"}, {"offset": 0.9278, "color": "#000"}, {"offset": 0.9278, "color": "#fff"}, {"offset": 0.9465, "color": "#fff"}, {"offset": 0.9465, "color": "#000"}, {"offset": 0.959, "color": "#000"}, {"offset": 0.959, "color": "#fff"}, {"offset": 0.9778, "color": "#fff"}, {"offset": 0.9778, "color": "#000"}, {"offset": 0.9903, "color": "#000"}, {"offset": 0.9903, "color": "#fff"}, {"offset": 1, "color": "#fff"}]}},
         "encoding": {"x": {"field": "certainty", "type": "nominal"}, "xOffset": {"field": "group", "type": "nominal", "scale": {"domain": ["Superiority", "Inferiority"]}}, "y": {"field": "mean", "type": "quantitative"}}},
        {"data": {"name": "bars"}, "transform": [{"filter": "datum.frame === 'Loss' && datum.certainty === 'Certain'"}],
         "mark": {"type": "bar", "fill": "transparent", "stroke": "#000", "strokeWidth": 1.2},
         "encoding": {"x": {"field": "certainty", "type": "nominal"}, "xOffset": {"field": "group", "type": "nominal", "scale": {"domain": ["Superiority", "Inferiority"]}}, "y": {"field": "mean", "type": "quantitative"}}},
        {"data": {"name": "bars"}, "transform": [{"filter": "datum.frame === 'Loss' && datum.certainty === 'Certain'"}],
         "mark": {"type": "rule", "stroke": "#000", "strokeWidth": 1.2},
         "encoding": {"x": {"field": "certainty", "type": "nominal"}, "xOffset": {"field": "group", "type": "nominal", "scale": {"domain": ["Superiority", "Inferiority"]}}, "y": {"field": "lo", "type": "quantitative"}, "y2": {"field": "hi"}}},
        {"data": {"name": "bars"}, "transform": [{"filter": "datum.frame === 'Loss' && datum.certainty === 'Certain'"}],
         "mark": {"type": "tick", "orient": "horizontal", "size": 10, "thickness": 1.2, "color": "#000"},
         "encoding": {"x": {"field": "certainty", "type": "nominal"}, "xOffset": {"field": "group", "type": "nominal", "scale": {"domain": ["Superiority", "Inferiority"]}}, "y": {"field": "lo", "type": "quantitative"}}},
        {"data": {"name": "bars"}, "transform": [{"filter": "datum.frame === 'Loss' && datum.certainty === 'Certain'"}],
         "mark": {"type": "tick", "orient": "horizontal", "size": 10, "thickness": 1.2, "color": "#000"},
         "encoding": {"x": {"field": "certainty", "type": "nominal"}, "xOffset": {"field": "group", "type": "nominal", "scale": {"domain": ["Superiority", "Inferiority"]}}, "y": {"field": "hi", "type": "quantitative"}}},
        {"data": {"name": "stats"}, "transform": [{"filter": "datum.frame === 'Loss' && datum.certainty === 'Certain'"}],
         "mark": {"type": "text", "text": "t", "fontStyle": "italic", "align": "right", "baseline": "alphabetic", "dx": -50.5, "dy": 56},
         "encoding": {"x": {"field": "certainty", "type": "nominal"}, "y": {"datum": 0, "type": "quantitative"}}},
        {"data": {"name": "stats"}, "transform": [{"filter": "datum.frame === 'Loss' && datum.certainty === 'Certain'"}],
         "mark": {"type": "text", "align": "left", "baseline": "alphabetic", "dx": -50, "dy": 56},
         "encoding": {"x": {"field": "certainty", "type": "nominal"}, "y": {"datum": 0, "type": "quantitative"}, "text": {"field": "label"}}}
      ]
    },
    {
      "width": 117, "height": 128,
      "layer": [
        {"data": {"name": "bars"}, "transform": [{"filter": "datum.frame === 'Loss' && datum.certainty === 'Uncertain'"}, {"filter": "datum.group === 'Superiority'"}],
         "mark": {"type": "bar", "strokeWidth": 0, "fill": {"gradient": "linear", "x1": 0, "y1": 0, "x2": 1, "y2": 0, "stops": [{"offset": 0, "color": "#fff"}, {"offset": 0.025, "color": "#fff"}, {"offset": 0.025, "color": "#000"}, {"offset": 0.085, "color": "#000"}, {"offset": 0.085, "color": "#fff"}, {"offset": 0.136, "color": "#fff"}, {"offset": 0.136, "color": "#000"}, {"offset": 0.196, "color": "#000"}, {"offset": 0.196, "color": "#fff"}, {"offset": 0.247, "color": "#fff"}, {"offset": 0.247, "color": "#000"}, {"offset": 0.307, "color": "#000"}, {"offset": 0.307, "color": "#fff"}, {"offset": 0.358, "color": "#fff"}, {"offset": 0.358, "color": "#000"}, {"offset": 0.418, "color": "#000"}, {"offset": 0.418, "color": "#fff"}, {"offset": 0.469, "color": "#fff"}, {"offset": 0.469, "color": "#000"}, {"offset": 0.529, "color": "#000"}, {"offset": 0.529, "color": "#fff"}, {"offset": 0.581, "color": "#fff"}, {"offset": 0.581, "color": "#000"}, {"offset": 0.641, "color": "#000"}, {"offset": 0.641, "color": "#fff"}, {"offset": 0.692, "color": "#fff"}, {"offset": 0.692, "color": "#000"}, {"offset": 0.752, "color": "#000"}, {"offset": 0.752, "color": "#fff"}, {"offset": 0.803, "color": "#fff"}, {"offset": 0.803, "color": "#000"}, {"offset": 0.863, "color": "#000"}, {"offset": 0.863, "color": "#fff"}, {"offset": 0.914, "color": "#fff"}, {"offset": 0.914, "color": "#000"}, {"offset": 0.974, "color": "#000"}, {"offset": 0.974, "color": "#fff"}, {"offset": 1, "color": "#fff"}]}},
         "encoding": {
           "x": {"field": "certainty", "type": "nominal", "title": null, "scale": {"paddingInner": 0, "paddingOuter": 0}, "axis": {"tickBand": "extent", "title": null}},
           "xOffset": {"field": "group", "type": "nominal", "scale": {"domain": ["Superiority", "Inferiority"], "paddingInner": 0, "paddingOuter": 0.5}},
           "y": {"field": "mean", "type": "quantitative", "scale": {"domain": [0, 12], "nice": false}, "axis": {"values": [0, 3, 6, 9, 12], "tickCount": 6, "grid": true, "title": null}}
         }},
        {"data": {"name": "bars"}, "transform": [{"filter": "datum.frame === 'Loss' && datum.certainty === 'Uncertain'"}, {"filter": "datum.group === 'Superiority'"}],
         "mark": {"type": "rule", "stroke": "#fff", "strokeWidth": 37, "strokeDash": [2.2, 2.2]},
         "encoding": {"x": {"field": "certainty", "type": "nominal"}, "xOffset": {"field": "group", "type": "nominal", "scale": {"domain": ["Superiority", "Inferiority"]}}, "y": {"field": "mean", "type": "quantitative"}, "y2": {"datum": 0}}},
        {"data": {"name": "bars"}, "transform": [{"filter": "datum.frame === 'Loss' && datum.certainty === 'Uncertain'"}, {"filter": "datum.group === 'Inferiority'"}],
         "mark": {"type": "bar", "strokeWidth": 0, "fill": {"gradient": "linear", "x1": 0, "y1": 1, "x2": 0.6146, "y2": -0.1978, "stops": [{"offset": 0, "color": "#fff"}, {"offset": 0.009, "color": "#fff"}, {"offset": 0.009, "color": "#000"}, {"offset": 0.0215, "color": "#000"}, {"offset": 0.0215, "color": "#fff"}, {"offset": 0.0403, "color": "#fff"}, {"offset": 0.0403, "color": "#000"}, {"offset": 0.0528, "color": "#000"}, {"offset": 0.0528, "color": "#fff"}, {"offset": 0.0715, "color": "#fff"}, {"offset": 0.0715, "color": "#000"}, {"offset": 0.084, "color": "#000"}, {"offset": 0.084, "color": "#fff"}, {"offset": 0.1028, "color": "#fff"}, {"offset": 0.1028, "color": "#000"}, {"offset": 0.1153, "color": "#000"}, {"offset": 0.1153, "color": "#fff"}, {"offset": 0.134, "color": "#fff"}, {"offset": 0.134, "color": "#000"}, {"offset": 0.1465, "color": "#000"}, {"offset": 0.1465, "color": "#fff"}, {"offset": 0.1653, "color": "#fff"}, {"offset": 0.1653, "color": "#000"}, {"offset": 0.1778, "color": "#000"}, {"offset": 0.1778, "color": "#fff"}, {"offset": 0.1965, "color": "#fff"}, {"offset": 0.1965, "color": "#000"}, {"offset": 0.209, "color": "#000"}, {"offset": 0.209, "color": "#fff"}, {"offset": 0.2278, "color": "#fff"}, {"offset": 0.2278, "color": "#000"}, {"offset": 0.2403, "color": "#000"}, {"offset": 0.2403, "color": "#fff"}, {"offset": 0.259, "color": "#fff"}, {"offset": 0.259, "color": "#000"}, {"offset": 0.2715, "color": "#000"}, {"offset": 0.2715, "color": "#fff"}, {"offset": 0.2903, "color": "#fff"}, {"offset": 0.2903, "color": "#000"}, {"offset": 0.3028, "color": "#000"}, {"offset": 0.3028, "color": "#fff"}, {"offset": 0.3215, "color": "#fff"}, {"offset": 0.3215, "color": "#000"}, {"offset": 0.334, "color": "#000"}, {"offset": 0.334, "color": "#fff"}, {"offset": 0.3528, "color": "#fff"}, {"offset": 0.3528, "color": "#000"}, {"offset": 0.3653, "color": "#000"}, {"offset": 0.3653, "color": "#fff"}, {"offset": 0.384, "color": "#fff"}, {"offset": 0.384, "color": "#000"}, {"offset": 0.3965, "color": "#000"}, {"offset": 0.3965, "color": "#fff"}, {"offset": 0.4153, "color": "#fff"}, {"offset": 0.4153, "color": "#000"}, {"offset": 0.4278, "color": "#000"}, {"offset": 0.4278, "color": "#fff"}, {"offset": 0.4465, "color": "#fff"}, {"offset": 0.4465, "color": "#000"}, {"offset": 0.459, "color": "#000"}, {"offset": 0.459, "color": "#fff"}, {"offset": 0.4778, "color": "#fff"}, {"offset": 0.4778, "color": "#000"}, {"offset": 0.4903, "color": "#000"}, {"offset": 0.4903, "color": "#fff"}, {"offset": 0.509, "color": "#fff"}, {"offset": 0.509, "color": "#000"}, {"offset": 0.5215, "color": "#000"}, {"offset": 0.5215, "color": "#fff"}, {"offset": 0.5403, "color": "#fff"}, {"offset": 0.5403, "color": "#000"}, {"offset": 0.5528, "color": "#000"}, {"offset": 0.5528, "color": "#fff"}, {"offset": 0.5715, "color": "#fff"}, {"offset": 0.5715, "color": "#000"}, {"offset": 0.584, "color": "#000"}, {"offset": 0.584, "color": "#fff"}, {"offset": 0.6028, "color": "#fff"}, {"offset": 0.6028, "color": "#000"}, {"offset": 0.6153, "color": "#000"}, {"offset": 0.6153, "color": "#fff"}, {"offset": 0.634, "color": "#fff"}, {"offset": 0.634, "color": "#000"}, {"offset": 0.6465, "color": "#000"}, {"offset": 0.6465, "color": "#fff"}, {"offset": 0.6653, "color": "#fff"}, {"offset": 0.6653, "color": "#000"}, {"offset": 0.6778, "color": "#000"}, {"offset": 0.6778, "color": "#fff"}, {"offset": 0.6965, "color": "#fff"}, {"offset": 0.6965, "color": "#000"}, {"offset": 0.709, "color": "#000"}, {"offset": 0.709, "color": "#fff"}, {"offset": 0.7278, "color": "#fff"}, {"offset": 0.7278, "color": "#000"}, {"offset": 0.7403, "color": "#000"}, {"offset": 0.7403, "color": "#fff"}, {"offset": 0.759, "color": "#fff"}, {"offset": 0.759, "color": "#000"}, {"offset": 0.7715, "color": "#000"}, {"offset": 0.7715, "color": "#fff"}, {"offset": 0.7903, "color": "#fff"}, {"offset": 0.7903, "color": "#000"}, {"offset": 0.8028, "color": "#000"}, {"offset": 0.8028, "color": "#fff"}, {"offset": 0.8215, "color": "#fff"}, {"offset": 0.8215, "color": "#000"}, {"offset": 0.834, "color": "#000"}, {"offset": 0.834, "color": "#fff"}, {"offset": 0.8528, "color": "#fff"}, {"offset": 0.8528, "color": "#000"}, {"offset": 0.8653, "color": "#000"}, {"offset": 0.8653, "color": "#fff"}, {"offset": 0.884, "color": "#fff"}, {"offset": 0.884, "color": "#000"}, {"offset": 0.8965, "color": "#000"}, {"offset": 0.8965, "color": "#fff"}, {"offset": 0.9153, "color": "#fff"}, {"offset": 0.9153, "color": "#000"}, {"offset": 0.9278, "color": "#000"}, {"offset": 0.9278, "color": "#fff"}, {"offset": 0.9465, "color": "#fff"}, {"offset": 0.9465, "color": "#000"}, {"offset": 0.959, "color": "#000"}, {"offset": 0.959, "color": "#fff"}, {"offset": 0.9778, "color": "#fff"}, {"offset": 0.9778, "color": "#000"}, {"offset": 0.9903, "color": "#000"}, {"offset": 0.9903, "color": "#fff"}, {"offset": 1, "color": "#fff"}]}},
         "encoding": {"x": {"field": "certainty", "type": "nominal"}, "xOffset": {"field": "group", "type": "nominal", "scale": {"domain": ["Superiority", "Inferiority"]}}, "y": {"field": "mean", "type": "quantitative"}}},
        {"data": {"name": "bars"}, "transform": [{"filter": "datum.frame === 'Loss' && datum.certainty === 'Uncertain'"}],
         "mark": {"type": "bar", "fill": "transparent", "stroke": "#000", "strokeWidth": 1.2},
         "encoding": {"x": {"field": "certainty", "type": "nominal"}, "xOffset": {"field": "group", "type": "nominal", "scale": {"domain": ["Superiority", "Inferiority"]}}, "y": {"field": "mean", "type": "quantitative"}}},
        {"data": {"name": "bars"}, "transform": [{"filter": "datum.frame === 'Loss' && datum.certainty === 'Uncertain'"}],
         "mark": {"type": "rule", "stroke": "#000", "strokeWidth": 1.2},
         "encoding": {"x": {"field": "certainty", "type": "nominal"}, "xOffset": {"field": "group", "type": "nominal", "scale": {"domain": ["Superiority", "Inferiority"]}}, "y": {"field": "lo", "type": "quantitative"}, "y2": {"field": "hi"}}},
        {"data": {"name": "bars"}, "transform": [{"filter": "datum.frame === 'Loss' && datum.certainty === 'Uncertain'"}],
         "mark": {"type": "tick", "orient": "horizontal", "size": 10, "thickness": 1.2, "color": "#000"},
         "encoding": {"x": {"field": "certainty", "type": "nominal"}, "xOffset": {"field": "group", "type": "nominal", "scale": {"domain": ["Superiority", "Inferiority"]}}, "y": {"field": "lo", "type": "quantitative"}}},
        {"data": {"name": "bars"}, "transform": [{"filter": "datum.frame === 'Loss' && datum.certainty === 'Uncertain'"}],
         "mark": {"type": "tick", "orient": "horizontal", "size": 10, "thickness": 1.2, "color": "#000"},
         "encoding": {"x": {"field": "certainty", "type": "nominal"}, "xOffset": {"field": "group", "type": "nominal", "scale": {"domain": ["Superiority", "Inferiority"]}}, "y": {"field": "hi", "type": "quantitative"}}},
        {"data": {"name": "stats"}, "transform": [{"filter": "datum.frame === 'Loss' && datum.certainty === 'Uncertain'"}],
         "mark": {"type": "text", "text": "t", "fontStyle": "italic", "align": "right", "baseline": "alphabetic", "dx": -50.5, "dy": 56},
         "encoding": {"x": {"field": "certainty", "type": "nominal"}, "y": {"datum": 0, "type": "quantitative"}}},
        {"data": {"name": "stats"}, "transform": [{"filter": "datum.frame === 'Loss' && datum.certainty === 'Uncertain'"}],
         "mark": {"type": "text", "align": "left", "baseline": "alphabetic", "dx": -50, "dy": 56},
         "encoding": {"x": {"field": "certainty", "type": "nominal"}, "y": {"datum": 0, "type": "quantitative"}, "text": {"field": "label"}}}
      ]
    },
    {
      "width": 117, "height": 24,
      "view": {"stroke": null},
      "data": {"name": "legend"},
      "layer": [
        {"transform": [{"filter": "datum.group === 'Superiority'"}],
         "mark": {"type": "bar", "strokeWidth": 0, "fill": {"gradient": "linear", "x1": 0, "y1": 0, "x2": 0, "y2": 1, "stops": [{"offset": 0, "color": "#fff"}, {"offset": 0.04, "color": "#fff"}, {"offset": 0.04, "color": "#000"}, {"offset": 0.13, "color": "#000"}, {"offset": 0.13, "color": "#fff"}, {"offset": 0.2067, "color": "#fff"}, {"offset": 0.2067, "color": "#000"}, {"offset": 0.2967, "color": "#000"}, {"offset": 0.2967, "color": "#fff"}, {"offset": 0.3733, "color": "#fff"}, {"offset": 0.3733, "color": "#000"}, {"offset": 0.4633, "color": "#000"}, {"offset": 0.4633, "color": "#fff"}, {"offset": 0.54, "color": "#fff"}, {"offset": 0.54, "color": "#000"}, {"offset": 0.63, "color": "#000"}, {"offset": 0.63, "color": "#fff"}, {"offset": 0.7067, "color": "#fff"}, {"offset": 0.7067, "color": "#000"}, {"offset": 0.7967, "color": "#000"}, {"offset": 0.7967, "color": "#fff"}, {"offset": 0.8733, "color": "#fff"}, {"offset": 0.8733, "color": "#000"}, {"offset": 0.9633, "color": "#000"}, {"offset": 0.9633, "color": "#fff"}, {"offset": 1, "color": "#fff"}]}},
         "encoding": {
           "x": {"datum": 0, "type": "quantitative", "scale": {"domain": [0, 1], "range": [103, 127]}, "axis": null},
           "x2": {"datum": 1},
           "y": {"field": "group", "type": "nominal", "scale": {"domain": ["Superiority", "Inferiority"], "range": [-42, 24], "paddingInner": 0.4286, "paddingOuter": 0}, "axis": null}
         }},
        {"transform": [{"filter": "datum.group === 'Superiority'"}],
         "mark": {"type": "rule", "stroke": "#fff", "strokeWidth": 24, "strokeDash": [2.2, 2.2]},
         "encoding": {"x": {"datum": 0, "type": "quantitative", "axis": null}, "x2": {"datum": 1}, "y": {"field": "group", "type": "nominal", "scale": {"domain": ["Superiority", "Inferiority"]}, "axis": null}}},
        {"transform": [{"filter": "datum.group === 'Inferiority'"}],
         "mark": {"type": "bar", "strokeWidth": 0, "fill": {"gradient": "linear", "x1": 0, "y1": 1, "x2": 1, "y2": 0, "stops": [{"offset": 0, "color": "#fff"}, {"offset": 0.02, "color": "#fff"}, {"offset": 0.02, "color": "#000"}, {"offset": 0.0486, "color": "#000"}, {"offset": 0.0486, "color": "#fff"}, {"offset": 0.0914, "color": "#fff"}, {"offset": 0.0914, "color": "#000"}, {"offset": 0.12, "color": "#000"}, {"offset": 0.12, "color": "#fff"}, {"offset": 0.1629, "color": "#fff"}, {"offset": 0.1629, "color": "#000"}, {"offset": 0.1914, "color": "#000"}, {"offset": 0.1914, "color": "#fff"}, {"offset": 0.2343, "color": "#fff"}, {"offset": 0.2343, "color": "#000"}, {"offset": 0.2629, "color": "#000"}, {"offset": 0.2629, "color": "#fff"}, {"offset": 0.3057, "color": "#fff"}, {"offset": 0.3057, "color": "#000"}, {"offset": 0.3343, "color": "#000"}, {"offset": 0.3343, "color": "#fff"}, {"offset": 0.3771, "color": "#fff"}, {"offset": 0.3771, "color": "#000"}, {"offset": 0.4057, "color": "#000"}, {"offset": 0.4057, "color": "#fff"}, {"offset": 0.4486, "color": "#fff"}, {"offset": 0.4486, "color": "#000"}, {"offset": 0.4771, "color": "#000"}, {"offset": 0.4771, "color": "#fff"}, {"offset": 0.52, "color": "#fff"}, {"offset": 0.52, "color": "#000"}, {"offset": 0.5486, "color": "#000"}, {"offset": 0.5486, "color": "#fff"}, {"offset": 0.5914, "color": "#fff"}, {"offset": 0.5914, "color": "#000"}, {"offset": 0.62, "color": "#000"}, {"offset": 0.62, "color": "#fff"}, {"offset": 0.6629, "color": "#fff"}, {"offset": 0.6629, "color": "#000"}, {"offset": 0.6914, "color": "#000"}, {"offset": 0.6914, "color": "#fff"}, {"offset": 0.7343, "color": "#fff"}, {"offset": 0.7343, "color": "#000"}, {"offset": 0.7629, "color": "#000"}, {"offset": 0.7629, "color": "#fff"}, {"offset": 0.8057, "color": "#fff"}, {"offset": 0.8057, "color": "#000"}, {"offset": 0.8343, "color": "#000"}, {"offset": 0.8343, "color": "#fff"}, {"offset": 0.8771, "color": "#fff"}, {"offset": 0.8771, "color": "#000"}, {"offset": 0.9057, "color": "#000"}, {"offset": 0.9057, "color": "#fff"}, {"offset": 0.9486, "color": "#fff"}, {"offset": 0.9486, "color": "#000"}, {"offset": 0.9771, "color": "#000"}, {"offset": 0.9771, "color": "#fff"}, {"offset": 1, "color": "#fff"}]}},
         "encoding": {"x": {"datum": 0, "type": "quantitative", "axis": null}, "x2": {"datum": 1}, "y": {"field": "group", "type": "nominal", "scale": {"domain": ["Superiority", "Inferiority"]}, "axis": null}}},
        {"mark": {"type": "bar", "fill": "transparent", "stroke": "#000", "strokeWidth": 1.2},
         "encoding": {"x": {"datum": 0, "type": "quantitative", "axis": null}, "x2": {"datum": 1}, "y": {"field": "group", "type": "nominal", "scale": {"domain": ["Superiority", "Inferiority"]}, "axis": null}}},
        {"mark": {"type": "text", "align": "left", "baseline": "middle", "dx": 9},
         "encoding": {"x": {"datum": 1, "type": "quantitative", "axis": null}, "y": {"field": "group", "type": "nominal", "scale": {"domain": ["Superiority", "Inferiority"]}, "axis": null}, "text": {"field": "group"}}}
      ]
    }
  ],
  "columns": 2,
  "spacing": {"row": 118, "column": 93},
  "bounds": "flush"
}
